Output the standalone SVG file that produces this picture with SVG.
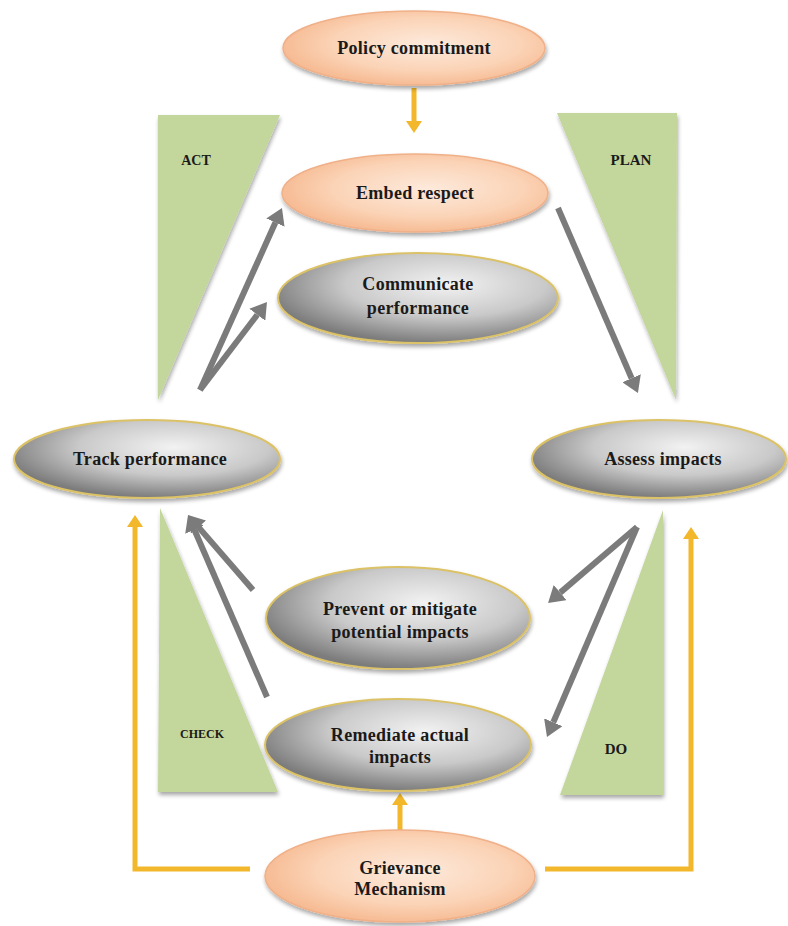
<svg xmlns="http://www.w3.org/2000/svg" width="788" height="926" viewBox="0 0 788 926">
<defs>
<radialGradient id="peach" cx="0.55" cy="0.45" r="0.6">
<stop offset="0" stop-color="#fdeadc"/>
<stop offset="0.6" stop-color="#fbd3b6"/>
<stop offset="1" stop-color="#f5b68c"/>
</radialGradient>
<radialGradient id="grey" cx="0.6" cy="0.35" r="0.65">
<stop offset="0" stop-color="#f2f2f2"/>
<stop offset="0.55" stop-color="#c9c9c9"/>
<stop offset="1" stop-color="#7c7c7c"/>
</radialGradient>
<filter id="sh" x="-10%" y="-10%" width="125%" height="130%">
<feGaussianBlur in="SourceAlpha" stdDeviation="2"/>
<feOffset dx="1" dy="3" result="b"/>
<feComponentTransfer><feFuncA type="linear" slope="0.35"/></feComponentTransfer>
<feMerge><feMergeNode/><feMergeNode in="SourceGraphic"/></feMerge>
</filter>
<marker id="ag" viewBox="0 0 16 20" markerWidth="16" markerHeight="20" refX="0" refY="10" orient="auto" markerUnits="userSpaceOnUse">
<path d="M0,0 L16,10 L0,20 z" fill="#7b7b7b"/>
</marker>
<marker id="ay" viewBox="0 0 12 16" markerWidth="12" markerHeight="16" refX="0" refY="8" orient="auto" markerUnits="userSpaceOnUse">
<path d="M0,0 L12,8 L0,16 z" fill="#f2b72a"/>
</marker>
</defs>
<style>
.tri{fill:#c3d69b;filter:url(#sh)}
.pe{fill:url(#peach);stroke:#f0b088;stroke-width:1.5;filter:url(#sh)}
.gr{fill:url(#grey);stroke:#dcc266;stroke-width:2;filter:url(#sh)}
.t{font-family:"Liberation Serif","DejaVu Serif",serif;font-weight:bold;font-size:18px;letter-spacing:0.3px;fill:#1a1a1a;text-anchor:middle}
.tl{font-family:"Liberation Serif","DejaVu Serif",serif;font-weight:bold;font-size:14px;fill:#1a1a1a;text-anchor:middle}
.cg{fill:none;stroke:#7b7b7b;stroke-width:6}
.cy{fill:none;stroke:#f2b72a;stroke-width:5}
</style>

<g id="act"><polygon class="tri" points="158,115 280,115 158,400"/><text class="tl" x="196" y="165">ACT</text></g>
<g id="plan"><polygon class="tri" points="557,113 677,113 676,400"/><text class="tl" x="631" y="165" style="font-size:15px">PLAN</text></g>
<g id="check"><polygon class="tri" points="160,508 278,792 158,792"/><text class="tl" x="202" y="738" style="font-size:12px">CHECK</text></g>
<g id="do"><polygon class="tri" points="663,510 663,795 560,795"/><text class="tl" x="616" y="754" style="font-size:15px">DO</text></g>

<g id="connectors">
<line class="cg" x1="558" y1="208" x2="631.6" y2="378.3" marker-end="url(#ag)"/>
<line class="cg" x1="200" y1="390" x2="275.4" y2="222.6" marker-end="url(#ag)"/>
<line class="cg" x1="200" y1="390" x2="257.3" y2="314.7" marker-end="url(#ag)"/>
<line class="cg" x1="637" y1="527" x2="560.2" y2="592.6" marker-end="url(#ag)"/>
<line class="cg" x1="637" y1="527" x2="553.3" y2="722.3" marker-end="url(#ag)"/>
<line class="cg" x1="253" y1="590" x2="198.5" y2="527.1" marker-end="url(#ag)"/>
<line class="cg" x1="267" y1="697" x2="194.4" y2="529.7" marker-end="url(#ag)"/>
<line class="cy" x1="414" y1="88" x2="414" y2="121" marker-end="url(#ay)"/>
<line class="cy" x1="400" y1="830" x2="400" y2="805" marker-end="url(#ay)"/>
<polyline class="cy" points="250,869 135,869 135,527" marker-end="url(#ay)"/>
<polyline class="cy" points="545,869 691,869 691,539" marker-end="url(#ay)"/>
</g>

<g id="policy"><ellipse class="pe" cx="414" cy="48" rx="131" ry="37"/><text class="t" x="414" y="54">Policy commitment</text></g>
<g id="embed"><ellipse class="pe" cx="415" cy="193" rx="133" ry="39"/><text class="t" x="415" y="199">Embed respect</text></g>
<g id="communicate"><ellipse class="gr" cx="418" cy="298" rx="140" ry="45"/><text class="t" x="418" y="290">Communicate</text><text class="t" x="418" y="314">performance</text></g>
<g id="track"><ellipse class="gr" cx="147" cy="459" rx="133" ry="39"/><text class="t" x="150" y="465">Track performance</text></g>
<g id="assess"><ellipse class="gr" cx="659" cy="459" rx="127" ry="39"/><text class="t" x="663" y="465">Assess impacts</text></g>
<g id="prevent"><ellipse class="gr" cx="398" cy="618" rx="132" ry="51"/><text class="t" x="400" y="615">Prevent or mitigate</text><text class="t" x="400" y="638">potential impacts</text></g>
<g id="remediate"><ellipse class="gr" cx="398" cy="745" rx="133" ry="46"/><text class="t" x="400" y="741">Remediate actual</text><text class="t" x="400" y="763">impacts</text></g>
<g id="grievance"><ellipse class="pe" cx="400" cy="876" rx="135" ry="46"/><text class="t" x="400" y="874">Grievance</text><text class="t" x="400" y="895">Mechanism</text></g>
</svg>
